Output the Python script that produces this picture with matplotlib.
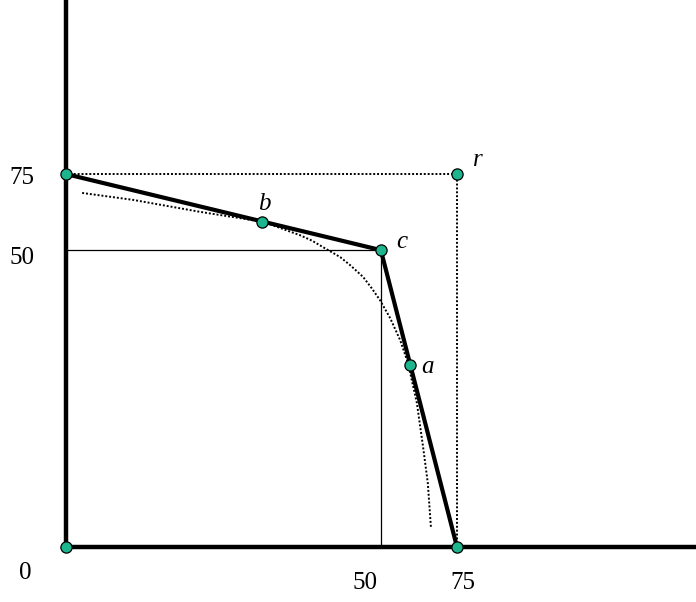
import matplotlib
matplotlib.use("Agg")
import matplotlib.pyplot as plt

# Key points (schematic units)
origin = (0.0, 0.0)
top_left = (0.0, 75.0)
bottom_right = (75.0, 0.0)
r_pt = (75.0, 75.0)
c_pt = (60.4, 59.7)
b_pt = (37.6, 65.4)
a_pt = (66.0, 36.6)

# Dotted curve (frontier)
curve_x = [3.1, 12.9, 25.7, 37.8, 44.9, 47.2, 49.3, 52.6, 54.6, 57.0, 58.6, 60.2, 62.2, 64.1, 65.6, 67.3, 68.5, 69.4, 70.0]
curve_y = [71.2, 69.8, 67.4, 65.4, 62.7, 61.6, 60.3, 58.3, 56.6, 54.3, 52.1, 49.7, 46.0, 41.6, 37.0, 29.0, 20.1, 12.9, 4.0]

point_labels = ["r", "b", "c", "a"]
label_pos = [(79.0, 77.8), (38.0, 69.0), (64.5, 61.3), (69.4, 36.2)]

x_tick_labels = ["0", "50", "75"]
x_tick_pos = [(-7.9, -5.2), (57.4, -7.2), (76.2, -7.2)]
y_tick_labels = ["75", "50"]
y_tick_pos = [(-8.4, 74.2), (-8.4, 58.1)]

fig = plt.figure(figsize=(6.96, 6.02), dpi=100)
ax = fig.add_axes([0, 0, 1, 1])
xmin, xmax = -12.66, 120.85
ymin, ymax = -11.06, 110.0
ax.set_xlim(xmin, xmax)
ax.set_ylim(ymin, ymax)
ax.axis("off")

# Axes lines
ax.plot([0, 0], [0, ymax], color="black", lw=3.2, solid_capstyle="butt", zorder=2)
ax.plot([0, xmax], [0, 0], color="black", lw=3.2, solid_capstyle="butt", zorder=2)

# Thin guide lines to c
ax.plot([0, c_pt[0]], [c_pt[1], c_pt[1]], color="black", lw=0.9, zorder=2)
ax.plot([c_pt[0], c_pt[0]], [0, c_pt[1]], color="black", lw=0.9, zorder=2)

# Dotted box to r
ax.plot([top_left[0], r_pt[0], bottom_right[0]], [top_left[1], r_pt[1], bottom_right[1]],
        color="black", lw=1.4, ls=(0, (1, 1)), zorder=2)

# Dotted curve
ax.plot(curve_x, curve_y, color="black", lw=1.4, ls=(0, (1, 1)), zorder=2)

# Thick frontier
ax.plot([top_left[0], c_pt[0], bottom_right[0]], [top_left[1], c_pt[1], bottom_right[1]],
        color="black", lw=3.0, solid_joinstyle="miter", zorder=3)

# Markers
pts = [origin, top_left, bottom_right, r_pt, c_pt, b_pt, a_pt]
ax.scatter([p[0] for p in pts], [p[1] for p in pts], s=65, color="#1cb58e",
           edgecolors="black", linewidths=0.9, zorder=4, clip_on=False)

serif = ["Liberation Serif", "DejaVu Serif"]
for lab, (x, y) in zip(point_labels, label_pos):
    ax.text(x, y, lab, fontsize=18, family=serif, style="italic", ha="center", va="center")
for lab, (x, y) in zip(x_tick_labels, x_tick_pos):
    ax.text(x, y, lab, fontsize=18, family=serif, ha="center", va="center")
for lab, (x, y) in zip(y_tick_labels, y_tick_pos):
    ax.text(x, y, lab, fontsize=18, family=serif, ha="center", va="center")

fig.savefig("out.png", dpi=100)
